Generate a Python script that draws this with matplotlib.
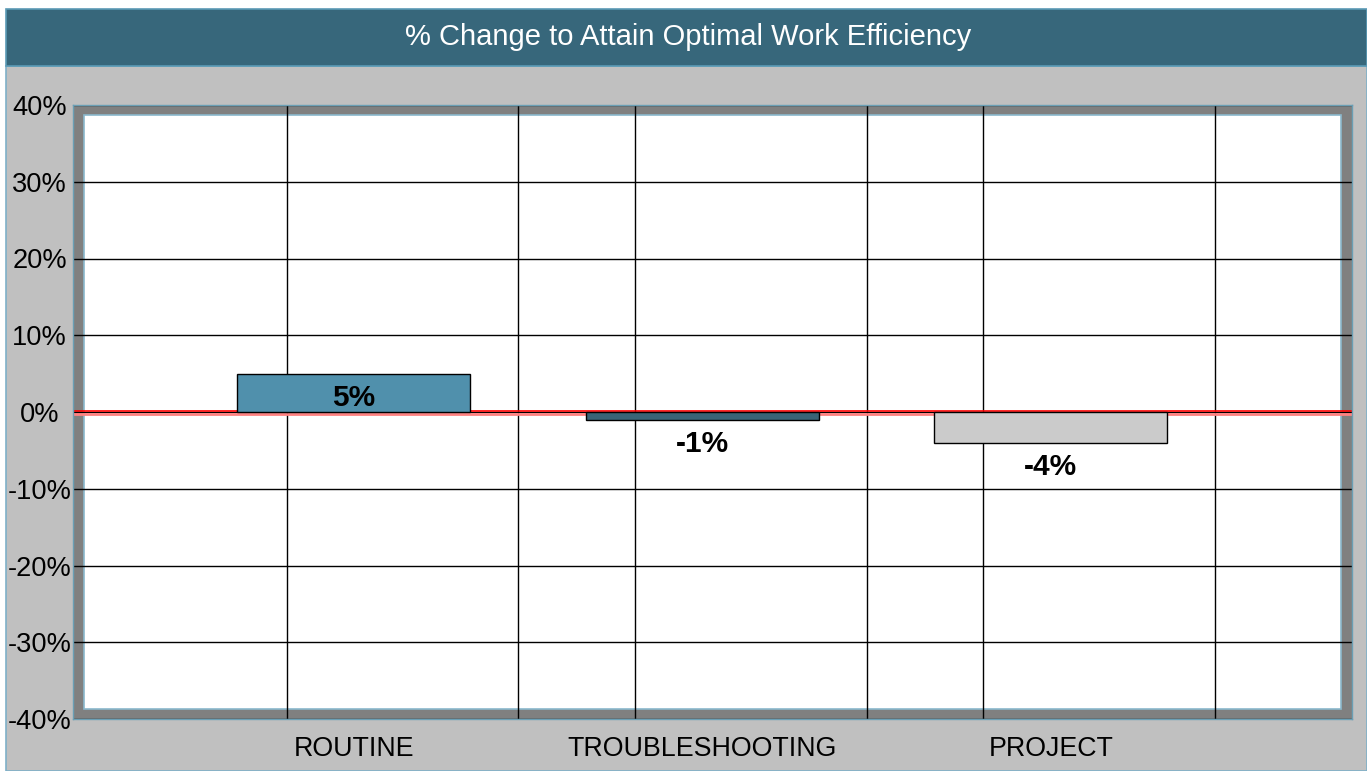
import matplotlib.pyplot as plt
from matplotlib.patches import Rectangle
from matplotlib import transforms

categories = ["ROUTINE", "TROUBLESHOOTING", "PROJECT"]
values = [5, -1, -4]
bar_colors = ["#5090ac", "#3a6476", "#cbcbcb"]
y_ticks = [-40, -30, -20, -10, 0, 10, 20, 30, 40]
y_tick_labels = ["{}%".format(v) for v in y_ticks]
v_grid = [-0.192, 0.471, 0.806, 1.472, 1.805, 2.471]

W, H = 1367, 771
plt.rcParams["font.family"] = ["Liberation Sans", "DejaVu Sans"]

fig = plt.figure(figsize=(W / 100, H / 100), dpi=100)
fig.patch.set_facecolor("white")

# gray body and teal title bar
fig.patches.append(Rectangle((6 / W, 0), 1 - 6 / W, (H - 66) / H, transform=fig.transFigure,
                             facecolor="#c0c0c0", edgecolor="#7fb0c8", linewidth=1.2, zorder=-2))
fig.patches.append(Rectangle((6 / W, (H - 66) / H), 1 - 6 / W, 57 / H, transform=fig.transFigure,
                             facecolor="#37677b", edgecolor="#5b9ab5", linewidth=1.2, zorder=-2))
fig.text(688 / W, (H - 37) / H, "% Change to Attain Optimal Work Efficiency", color="white",
         fontsize=21, ha="center", va="center")

ax = fig.add_axes([73 / W, (H - 719) / H, (1352 - 73) / W, (719 - 105) / H])
ax.set_zorder(1)
ax.set_facecolor("#808080")
ax.set_xlim(-0.806, 2.864)
ax.set_ylim(-40, 40)

# white inner area inside the thick gray frame
aw, ah = 1352 - 73, 719 - 105
ax.add_patch(Rectangle((11 / aw, 10 / ah), 1 - 22 / aw, 1 - 20 / ah, transform=ax.transAxes,
                       facecolor="white", edgecolor="#8ab8cc", linewidth=1.2, zorder=0.5))

for y in y_ticks:
    ax.axhline(y, color="black", linewidth=1, zorder=1)
for x in v_grid:
    ax.axvline(x, color="black", linewidth=1, zorder=1)

up = transforms.offset_copy(ax.transData, fig=fig, x=0, y=1.5, units="dots")
down = transforms.offset_copy(ax.transData, fig=fig, x=0, y=-2.2, units="dots")
ax.plot([-0.806, 2.864], [0, 0], color="red", linewidth=1.2, transform=up, zorder=1.5)
ax.plot([-0.806, 2.864], [0, 0], color="#ff8080", linewidth=2, transform=down, zorder=1.5)

x = list(range(len(categories)))
ax.bar(x, values, width=0.668, color=bar_colors, edgecolor="black", linewidth=1, zorder=2)

for i, v in enumerate(values):
    ax.annotate("{}%".format(v), (i, v), xytext=(0, -24), textcoords="offset pixels",
                ha="center", va="center", fontsize=21.5, fontweight="bold", zorder=3)

ax.set_yticks(y_ticks)
ax.set_yticklabels(y_tick_labels, ha="center")
ax.set_xticks(x)
ax.set_xticklabels(categories)
ax.tick_params(axis="y", length=0, pad=24, labelsize=19.6)
ax.tick_params(axis="x", length=0, pad=12, labelsize=19.3)
for s in ax.spines.values():
    s.set_color("#6a9fb5")
    s.set_linewidth(1)

plt.savefig("out.png", dpi=100)
plt.close()
